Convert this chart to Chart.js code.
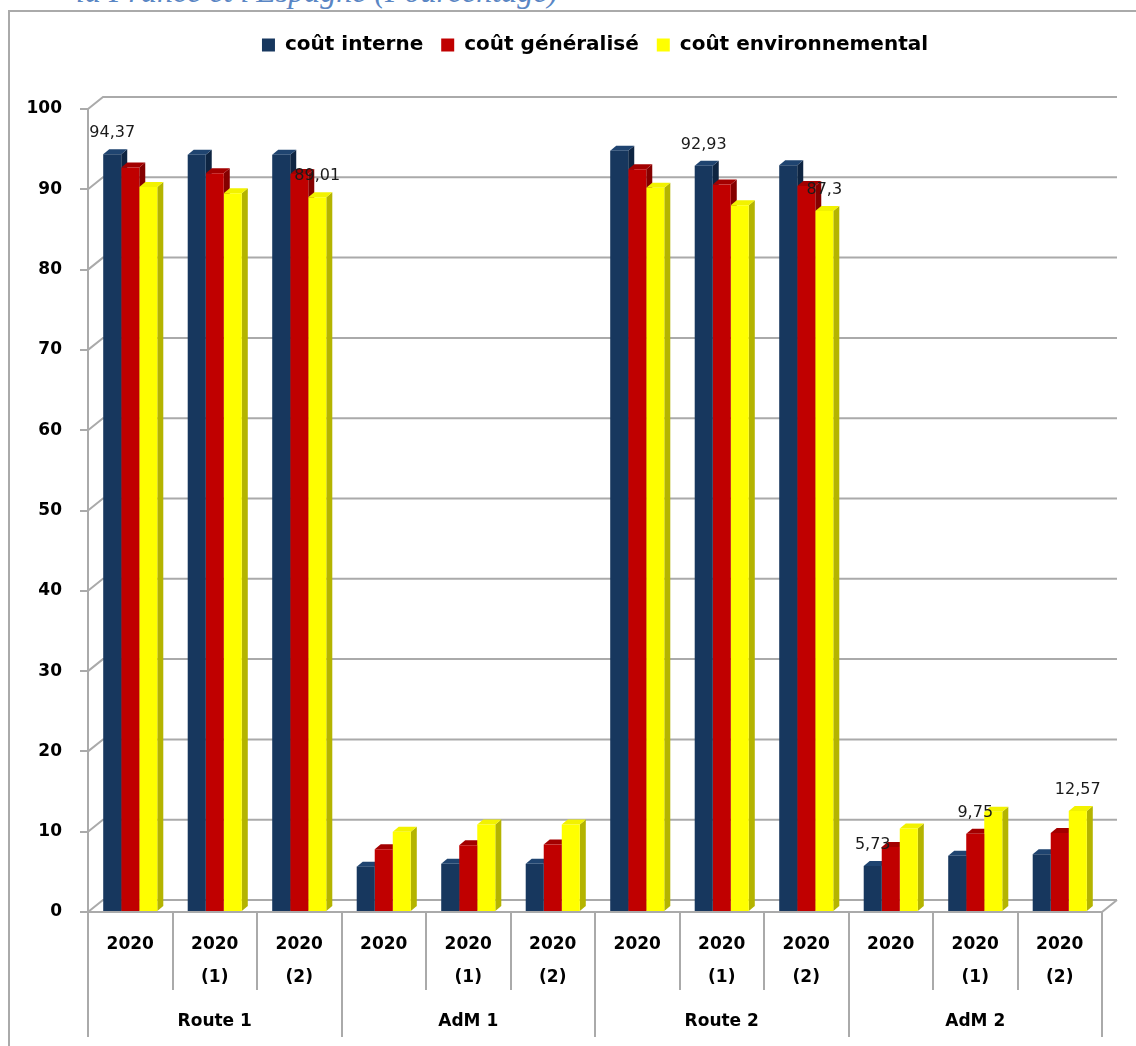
<!DOCTYPE html>
<html>
<head>
<meta charset="utf-8">
<script src="https://cdn.jsdelivr.net/npm/chart.js@4.4.1/dist/chart.umd.min.js"></script>
<style>
  html, body { margin: 0; padding: 0; background: #fff; }
  body { width: 1136px; height: 1046px; position: relative; overflow: hidden; }
  #titre {
    position: absolute; right: 578px; top: -27px; white-space: nowrap;
    font-family: "Liberation Serif", serif; font-style: italic; font-size: 32px;
    line-height: 36px; color: #5a86c4;
  }
  #cadre { position: absolute; left: 8px; top: 10px; width: 1200px; height: 1100px; border: 2px solid #aaaaaa; }
  #graph { position: absolute; left: 0; top: 0; }
</style>
</head>
<body>
<div id="titre">la France et l'Espagne (Pourcentage)</div>
<div id="cadre"></div>
<canvas id="graph" width="1136" height="1046"></canvas>
<script>
// Données
const categories = [
  ["2020"], ["2020", "(1)"], ["2020", "(2)"],
  ["2020"], ["2020", "(1)"], ["2020", "(2)"],
  ["2020"], ["2020", "(1)"], ["2020", "(2)"],
  ["2020"], ["2020", "(1)"], ["2020", "(2)"]
];
const groupes = ["Route 1", "AdM 1", "Route 2", "AdM 2"];

const coutInterne = [94.37, 94.3, 94.3, 5.65, 6.0, 6.0, 94.8, 92.93, 93.0, 5.73, 7.0, 7.2];
const coutGeneralise = [92.7, 92.0, 91.9, 7.8, 8.3, 8.4, 92.5, 90.6, 90.4, 8.1, 9.75, 9.85];
const coutEnvironnemental = [90.3, 89.5, 89.01, 10.0, 10.9, 10.9, 90.2, 88.0, 87.3, 10.4, 12.5, 12.57];

// indices des barres qui portent une étiquette de valeur
const etiquettesInterne = [0, 7, 9];
const etiquettesGeneralise = [10];
const etiquettesEnvironnemental = [2, 8, 11];

// Couleurs : face avant, dessus, côté
const couleurs = [
  { face: "#17375e", dessus: "#1f4470", cote: "#0e2542" },
  { face: "#c00000", dessus: "#a30000", cote: "#850000" },
  { face: "#ffff00", dessus: "#f2f200", cote: "#b4b400" }
];
const etiquettes = [etiquettesInterne, etiquettesGeneralise, etiquettesEnvironnemental];

const mur = { dx: 15, dy: -12 };   // décalage du mur du fond
const relief = { dx: 6, dy: -5 };  // épaisseur des barres
const gris = "#aaaaaa";

Chart.defaults.font.family = "DejaVu Sans";
Chart.defaults.color = "#000";

// Fond 3D : grille sur le mur du fond, sol, faces des barres
const decor3d = {
  id: "decor3d",
  beforeDatasetsDraw(chart) {
    const ctx = chart.ctx;
    const area = chart.chartArea;
    const y = chart.scales.y;
    ctx.save();
    ctx.strokeStyle = gris;
    ctx.lineWidth = 2;
    y.ticks.forEach((t) => {
      const py = y.getPixelForValue(t.value);
      ctx.beginPath();
      ctx.moveTo(area.left, py);
      ctx.lineTo(area.left + mur.dx, py + mur.dy);
      ctx.lineTo(area.right + mur.dx, py + mur.dy);
      ctx.stroke();
    });
    // sol
    ctx.beginPath();
    ctx.moveTo(area.left, area.bottom);
    ctx.lineTo(area.right, area.bottom);
    ctx.lineTo(area.right + mur.dx, area.bottom + mur.dy);
    ctx.stroke();

    // faces latérales et dessus des barres
    chart.data.datasets.forEach((ds, i) => {
      const meta = chart.getDatasetMeta(i);
      meta.data.forEach((bar) => {
        const p = bar.getProps(["x", "y", "base", "width"], true);
        const g = p.x - p.width / 2;
        const d = p.x + p.width / 2;
        ctx.fillStyle = couleurs[i].cote;
        ctx.beginPath();
        ctx.moveTo(d, p.y);
        ctx.lineTo(d + relief.dx, p.y + relief.dy);
        ctx.lineTo(d + relief.dx, p.base + relief.dy);
        ctx.lineTo(d, p.base);
        ctx.closePath();
        ctx.fill();
        ctx.fillStyle = couleurs[i].dessus;
        ctx.beginPath();
        ctx.moveTo(g, p.y);
        ctx.lineTo(g + relief.dx, p.y + relief.dy);
        ctx.lineTo(d + relief.dx, p.y + relief.dy);
        ctx.lineTo(d, p.y);
        ctx.closePath();
        ctx.fill();
      });
    });
    ctx.restore();
  },
  afterDatasetsDraw(chart) {
    const ctx = chart.ctx;
    ctx.save();
    ctx.font = "16px 'DejaVu Sans'";
    ctx.fillStyle = "#1a1a1a";
    ctx.textAlign = "center";
    ctx.textBaseline = "middle";
    chart.data.datasets.forEach((ds, i) => {
      const meta = chart.getDatasetMeta(i);
      etiquettes[i].forEach((k) => {
        const bar = meta.data[k];
        const txt = String(ds.data[k]).replace(".", ",");
        ctx.fillText(txt, bar.x, bar.y - 21);
      });
    });
    ctx.restore();
  },
  afterDraw(chart) {
    // séparateurs du tableau des catégories
    const ctx = chart.ctx;
    const area = chart.chartArea;
    const x = chart.scales.x;
    const x2 = chart.scales.x2;
    ctx.save();
    ctx.strokeStyle = gris;
    ctx.lineWidth = 2;
    for (let i = 0; i <= categories.length; i++) {
      const px = Math.round(x.getPixelForValue(i - 0.5));
      const bas = i % 3 === 0 ? x2.bottom : x.bottom;
      ctx.beginPath();
      ctx.moveTo(px, area.bottom);
      ctx.lineTo(px, bas);
      ctx.stroke();
    }
    ctx.restore();
  }
};

// Hauteur fixe de la légende
const hauteurLegende = {
  id: "hauteurLegende",
  beforeInit(chart) {
    if (!chart.legend) return;
    const fitOrig = chart.legend.fit;
    chart.legend.fit = function () {
      fitOrig.call(this);
      this.height = 92;
    };
  }
};

const ctx = document.getElementById("graph").getContext("2d");
new Chart(ctx, {
  type: "bar",
  data: {
    labels: categories,
    datasets: [
      { label: "coût interne", data: coutInterne },
      { label: "coût généralisé", data: coutGeneralise },
      { label: "coût environnemental", data: coutEnvironnemental }
    ].map((ds, i) => ({
      ...ds,
      backgroundColor: couleurs[i].face,
      borderWidth: 0,
      categoryPercentage: 0.64,
      barPercentage: 1,
      xAxisID: "x",
      yAxisID: "y"
    }))
  },
  options: {
    responsive: false,
    animation: false,
    devicePixelRatio: 1,
    layout: { padding: { top: 17, left: 0, right: 34, bottom: 9 } },
    plugins: {
      tooltip: { enabled: false },
      legend: {
        position: "top",
        fullSize: false,
        labels: {
          boxWidth: 13,
          boxHeight: 13,
          padding: 18,
          color: "#000",
          font: { size: 20, weight: "bold" }
        }
      }
    },
    scales: {
      y: {
        min: 0,
        max: 100,
        ticks: { stepSize: 10, padding: 18, font: { size: 17, weight: "bold" } },
        grid: { drawOnChartArea: false, drawTicks: true, tickLength: 8, color: gris, lineWidth: 2 },
        border: { display: true, color: gris, width: 2 },
        afterFit(s) { s.width = 88; }
      },
      x: {
        type: "category",
        position: "bottom",
        weight: 1,
        offset: true,
        grid: { display: false },
        border: { display: false },
        ticks: {
          autoSkip: false,
          maxRotation: 0,
          padding: 8,
          font: { size: 17, weight: "bold", lineHeight: "33px" }
        },
        afterFit(s) { s.height = 78; }
      },
      x2: {
        type: "category",
        position: "bottom",
        weight: 2,
        labels: groupes,
        offset: true,
        grid: { display: false },
        border: { display: false },
        ticks: {
          autoSkip: false,
          maxRotation: 0,
          padding: 14,
          font: { size: 17, weight: "bold", lineHeight: "20px" }
        },
        afterFit(s) { s.height = 47; }
      }
    }
  },
  plugins: [decor3d, hauteurLegende]
});
</script>
</body>
</html>
